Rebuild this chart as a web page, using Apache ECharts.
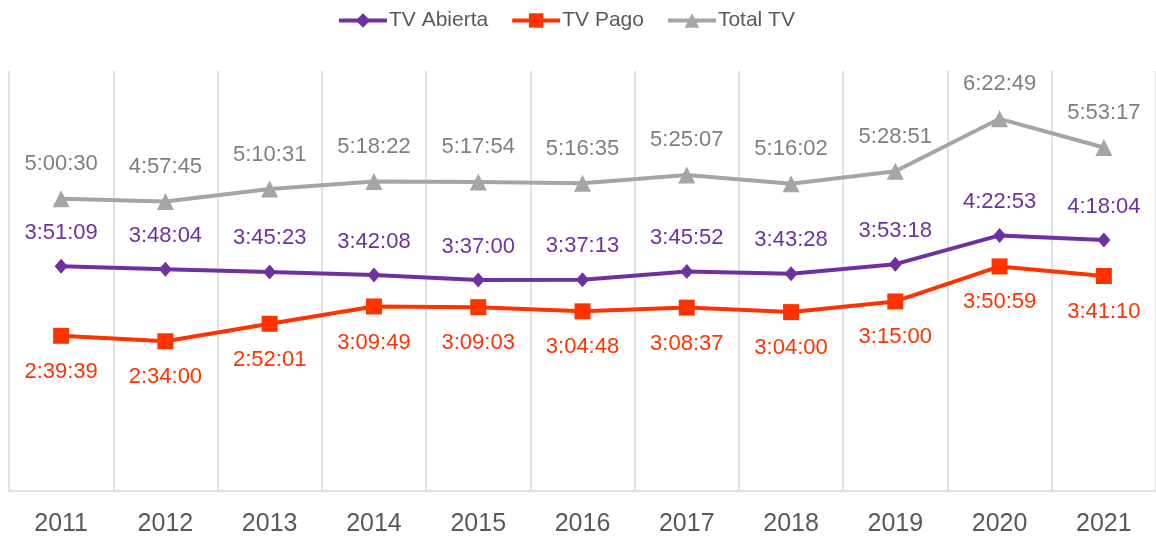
<!DOCTYPE html>
<html>
<head>
<meta charset="utf-8">
<script src="https://cdn.jsdelivr.net/npm/echarts@6/dist/echarts.min.js"></script>
<style>
  html, body { margin: 0; padding: 0; background: #fff; }
  #chart { width: 1156px; height: 537px; }
</style>
</head>
<body>
<div id="chart"></div>
<script>
// años
const years = ['2011', '2012', '2013', '2014', '2015', '2016', '2017', '2018', '2019', '2020', '2021'];

// tiempos en h:mm:ss
const tvAbierta = ['3:51:09', '3:48:04', '3:45:23', '3:42:08', '3:37:00', '3:37:13', '3:45:52', '3:43:28', '3:53:18', '4:22:53', '4:18:04'];
const tvPago = ['2:39:39', '2:34:00', '2:52:01', '3:09:49', '3:09:03', '3:04:48', '3:08:37', '3:04:00', '3:15:00', '3:50:59', '3:41:10'];
const totalTv = ['5:00:30', '4:57:45', '5:10:31', '5:18:22', '5:17:54', '5:16:35', '5:25:07', '5:16:02', '5:28:51', '6:22:49', '5:53:17'];

// eje vertical (segundos), oculto
const yMax = 25920;

function toSeconds(s) {
    const p = s.split(':').map(Number);
    return p[0] * 3600 + p[1] * 60 + p[2];
}

function toClock(sec) {
    const h = Math.floor(sec / 3600);
    const m = Math.floor((sec % 3600) / 60);
    const s = Math.round(sec % 60);
    return h + ':' + String(m).padStart(2, '0') + ':' + String(s).padStart(2, '0');
}

const font = '"Liberation Sans", Arial, sans-serif';

var myChart = echarts.init(document.getElementById('chart'));

myChart.setOption({
    animation: false,
    legend: {
        top: 5,
        left: 332,
        itemWidth: 48,
        itemHeight: 18,
        itemGap: 22,
        lineStyle: { width: 4 },
        textStyle: {
            fontFamily: font,
            fontSize: 21,
            color: '#595959',
            padding: [0, 0, 0, -3]
        },
        data: ['TV Abierta', 'TV Pago', 'Total TV']
    },
    grid: {
        left: 9,
        top: 71,
        width: 1151,
        height: 420
    },
    xAxis: {
        type: 'category',
        data: years,
        boundaryGap: true,
        axisLine: {
            lineStyle: { color: '#D9D9D9', width: 1.5 }
        },
        axisTick: { show: false },
        splitLine: {
            show: true,
            interval: 0,
            lineStyle: { color: '#D9D9D9', width: 1.5 }
        },
        axisLabel: {
            fontFamily: font,
            fontSize: 25,
            color: '#595959',
            margin: 21,
            interval: 0
        }
    },
    yAxis: {
        type: 'value',
        min: 0,
        max: yMax,
        show: false
    },
    series: [
        {
            name: 'TV Abierta',
            type: 'line',
            data: tvAbierta.map(toSeconds),
            symbol: 'diamond',
            symbolSize: [13, 15],
            lineStyle: { color: '#7030A0', width: 4 },
            itemStyle: { color: '#7030A0' },
            label: {
                show: true,
                position: 'top',
                distance: 15,
                formatter: p => toClock(p.value),
                fontFamily: font,
                fontSize: 22,
                color: '#7030A0'
            }
        },
        {
            name: 'TV Pago',
            type: 'line',
            data: tvPago.map(toSeconds),
            symbol: 'rect',
            symbolSize: 16,
            lineStyle: { color: '#FF3300', width: 4 },
            itemStyle: { color: '#FF3300' },
            label: {
                show: true,
                position: 'bottom',
                distance: 17,
                formatter: p => toClock(p.value),
                fontFamily: font,
                fontSize: 22,
                color: '#FF3300'
            }
        },
        {
            name: 'Total TV',
            type: 'line',
            data: totalTv.map(toSeconds),
            symbol: 'triangle',
            symbolSize: 17,
            lineStyle: { color: '#A5A5A5', width: 4 },
            itemStyle: { color: '#A5A5A5' },
            label: {
                show: true,
                position: 'top',
                distance: 15,
                formatter: p => toClock(p.value),
                fontFamily: font,
                fontSize: 22,
                color: '#7F7F7F'
            }
        }
    ]
});
</script>
</body>
</html>
